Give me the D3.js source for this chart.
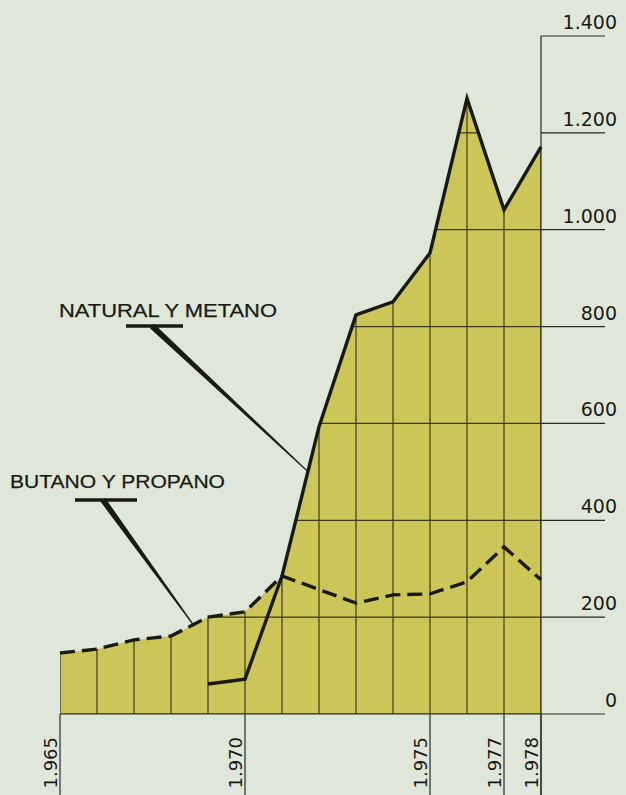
<!DOCTYPE html>
<html>
<head>
<meta charset="utf-8">
<script src="https://cdn.jsdelivr.net/npm/d3@7"></script>
<style>
  body { margin: 0; background: #dfe7da; }
  svg { display: block; }
</style>
</head>
<body>
<script>
// consumo de gas
const years = [1965, 1966, 1967, 1968, 1969, 1970, 1971, 1972, 1973, 1974, 1975, 1976, 1977, 1978];
const butano = [126, 134, 153, 161, 200, 211, 285, 257, 229, 246, 248, 273, 345, 277];
const natural = [null, null, null, null, 62, 72, 285, 593, 824, 851, 952, 1271, 1041, 1171];
const yTicks = [0, 200, 400, 600, 800, 1000, 1200, 1400];
const yearLabels = [1965, 1970, 1975, 1977, 1978];

const w = 626;
const h = 795;
const ink = '#1a1a14';
const fillColor = '#cbc657';
const gridColor = '#3b3a1c';

const fmt = d3.formatLocale({ decimal: ',', thousands: '.', grouping: [3], currency: ['', ''] }).format(',');

const x = d3.scaleLinear().domain([1965, 1978]).range([60, 541]);
const y = d3.scaleLinear().domain([0, 1400]).range([714, 36]);

const rows = years.map((yr, i) => ({
  year: yr,
  butano: butano[i],
  natural: natural[i],
  top: Math.max(butano[i], natural[i] == null ? 0 : natural[i]),
}));

const svg = d3.select('body').append('svg').attr('width', w).attr('height', h);

const area = d3
  .area()
  .x(d => x(d.year))
  .y0(y(0))
  .y1(d => y(d.top));

svg.append('clipPath').attr('id', 'fill-clip').append('path').attr('d', area(rows));

svg.append('path').attr('d', area(rows)).attr('fill', fillColor);

// rejilla dentro del area
const grid = svg.append('g').attr('clip-path', 'url(#fill-clip)');

grid
  .selectAll('line.h')
  .data(yTicks)
  .enter()
  .append('line')
  .attr('x1', x(1965))
  .attr('x2', x(1978))
  .attr('y1', d => y(d))
  .attr('y2', d => y(d))
  .attr('stroke', gridColor)
  .attr('stroke-width', 1.2);

grid
  .selectAll('line.v')
  .data(years)
  .enter()
  .append('line')
  .attr('x1', d => x(d))
  .attr('x2', d => x(d))
  .attr('y1', y(0))
  .attr('y2', y(1400))
  .attr('stroke', gridColor)
  .attr('stroke-width', 1.2);

// eje derecho
const axis = svg.append('g');

axis
  .selectAll('line')
  .data(yTicks)
  .enter()
  .append('line')
  .attr('x1', d => (d === 0 ? x(1965) : x(1978)))
  .attr('x2', 605)
  .attr('y1', d => y(d))
  .attr('y2', d => y(d))
  .attr('stroke', '#2a2a24')
  .attr('stroke-width', 1.2);

axis
  .selectAll('text')
  .data(yTicks)
  .enter()
  .append('text')
  .attr('x', 617)
  .attr('y', d => y(d) - 7)
  .attr('text-anchor', 'end')
  .attr('font-family', 'DejaVu Sans, sans-serif')
  .attr('font-size', 19)
  .attr('fill', ink)
  .text(d => fmt(d));

axis
  .append('line')
  .attr('x1', x(1978))
  .attr('x2', x(1978))
  .attr('y1', y(1400))
  .attr('y2', h)
  .attr('stroke', '#2a2a24')
  .attr('stroke-width', 1.2);

// años
const xAxis = svg.append('g');

xAxis
  .selectAll('line')
  .data(yearLabels)
  .enter()
  .append('line')
  .attr('x1', d => x(d))
  .attr('x2', d => x(d))
  .attr('y1', y(0))
  .attr('y2', h)
  .attr('stroke', '#2a2a24')
  .attr('stroke-width', 1.2);

xAxis
  .selectAll('text')
  .data(yearLabels)
  .enter()
  .append('text')
  .attr('transform', d => `translate(${x(d) - 3},${737}) rotate(-90)`)
  .attr('text-anchor', 'end')
  .attr('font-family', 'DejaVu Sans, sans-serif')
  .attr('font-size', 18)
  .attr('fill', ink)
  .text(d => fmt(d));

// series
const naturalLine = d3
  .line()
  .defined(d => d.natural != null)
  .x(d => x(d.year))
  .y(d => y(d.natural));

const butanoLine = d3
  .line()
  .x(d => x(d.year))
  .y(d => y(d.butano));

svg
  .append('path')
  .attr('d', butanoLine(rows))
  .attr('fill', 'none')
  .attr('stroke', ink)
  .attr('stroke-width', 3.4)
  .attr('stroke-dasharray', '15,7');

svg
  .append('path')
  .attr('d', naturalLine(rows))
  .attr('fill', 'none')
  .attr('stroke', ink)
  .attr('stroke-width', 3.4)
  .attr('stroke-linejoin', 'miter');

// rotulos con flecha
const notes = [
  { text: 'NATURAL Y METANO', series: natural, at: 1971.7, tx: 59, ty: 317, tw: 218, bar: [126, 183], by: 326, from: 152 },
  { text: 'BUTANO Y PROPANO', series: butano, at: 1968.6, tx: 10, ty: 488, tw: 215, bar: [75, 137], by: 500, from: 103 },
];

const valueAt = (series, at) => {
  const i = Math.floor(at - 1965);
  const f = at - 1965 - i;
  return series[i] + (series[i + 1] - series[i]) * f;
};

notes.forEach(n => {
  svg
    .append('text')
    .attr('x', n.tx)
    .attr('y', n.ty)
    .attr('textLength', n.tw)
    .attr('lengthAdjust', 'spacingAndGlyphs')
    .attr('font-family', 'Liberation Sans, Arial, sans-serif')
    .attr('font-size', 19)
    .attr('fill', ink)
    .attr('stroke', ink)
    .attr('stroke-width', 0.25)
    .text(n.text);

  svg
    .append('line')
    .attr('x1', n.bar[0])
    .attr('x2', n.bar[1])
    .attr('y1', n.by)
    .attr('y2', n.by)
    .attr('stroke', ink)
    .attr('stroke-width', 3.5);

  const sx = n.from;
  const sy = n.by;
  const ex = x(n.at);
  const ey = y(valueAt(n.series, n.at));
  const len = Math.hypot(ex - sx, ey - sy);
  const nx = -(ey - sy) / len;
  const ny = (ex - sx) / len;
  const w0 = 3;
  const w1 = 0.6;
  svg
    .append('path')
    .attr(
      'd',
      `M${sx + nx * w0},${sy + ny * w0}L${ex + nx * w1},${ey + ny * w1}L${ex - nx * w1},${ey - ny * w1}L${sx - nx * w0},${sy - ny * w0}Z`,
    )
    .attr('fill', ink);
});
</script>
</body>
</html>
